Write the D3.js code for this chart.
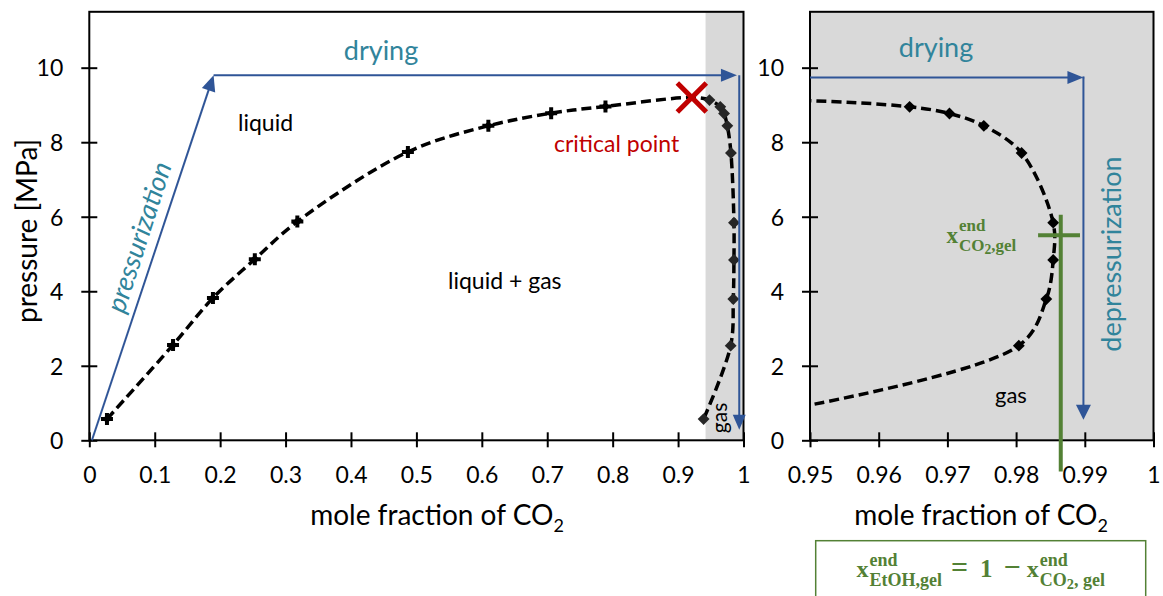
<!DOCTYPE html>
<html>
<head>
<meta charset="utf-8">
<script src="https://cdn.jsdelivr.net/npm/d3@7"></script>
<style>
  html, body { margin: 0; padding: 0; background: #fff; }
  svg { display: block; font-family: Lato, "Open Sans", sans-serif; }
</style>
</head>
<body>
<svg id="chart" width="1163" height="596"></svg>
<script>
// Ethanol / CO2 phase envelope at drying temperature, with the supercritical drying route.

// Bubble (liquid) branch: CO2 mole fraction and pressure [MPa]
const liquidX = [0.027, 0.128, 0.189, 0.253, 0.318, 0.487, 0.610, 0.706, 0.789];
const liquidP = [0.57, 2.56, 3.82, 4.86, 5.87, 7.74, 8.44, 8.78, 8.96];

// Critical point of the mixture
const criticalX = 0.921;
const criticalP = 9.2;

// Dew (gas) branch, from the critical point downwards
const gasX = [0.948, 0.9645, 0.9703, 0.9753, 0.9808, 0.9854, 0.9854, 0.9844, 0.9804, 0.939];
const gasP = [9.13, 8.95, 8.77, 8.44, 7.71, 5.84, 4.84, 3.79, 2.54, 0.57];

// Process route: pressurization, drying, depressurization (x, P)
const routeLeftX = [0.004, 0.19, 0.99];
const routeLeftP = [0.0, 9.8, 9.8];
const depressLeftX = 0.9935;
const depressLeftP = [9.8, 0.28];
const routeRightX = [0.95, 0.9898];
const routeRightP = [9.74, 9.74];
const depressRightX = 0.9898;
const depressRightP = [9.74, 0.55];

// Start of the single-phase gas region
const gasRegionFrom = 0.942;

// End-of-drying composition of the gel (CO2 mole fraction, pressure)
const endGelX = 0.9865;
const endGelP = 5.5;
const endGelSpanP = [6.05, -0.84];
const endGelSpanX = [0.9832, 0.9893];

// Axis ticks
const pTicks = [0, 2, 4, 6, 8, 10];
const pTickLabels = ["0", "2", "4", "6", "8", "10"];
const xTicksLeft = [0, 0.1, 0.2, 0.3, 0.4, 0.5, 0.6, 0.7, 0.8, 0.9, 1];
const xTickLabelsLeft = ["0", "0.1", "0.2", "0.3", "0.4", "0.5", "0.6", "0.7", "0.8", "0.9", "1"];
const xTicksRight = [0.95, 0.96, 0.97, 0.98, 0.99, 1];
const xTickLabelsRight = ["0.95", "0.96", "0.97", "0.98", "0.99", "1"];

const BLUE = "#2F5597", TEAL = "#31849B", RED = "#C00000", GREEN = "#538135", SHADE = "#D9D9D9";
const MATH_FONT = "'Liberation Serif', 'DejaVu Serif', serif";

const svg = d3.select("#chart");
const defs = svg.append("defs");

const y = d3.scaleLinear().domain([0, 11.5]).range([440.3, 11.8]);
const xL = d3.scaleLinear().domain([0, 1]).range([89.3, 743.5]);
const xR = d3.scaleLinear().domain([0.95, 1]).range([810, 1153.5]);

const liquid = liquidX.map((v, i) => [v, liquidP[i]]);
const gas = gasX.map((v, i) => [v, gasP[i]]);
const envelope = liquid.concat([[criticalX, criticalP]], gas);

function arrowHead(g, x1, y1, x2, y2, len, wid) {
  const a = Math.atan2(y2 - y1, x2 - x1);
  const bx = x2 - len * Math.cos(a), by = y2 - len * Math.sin(a);
  const nx = -Math.sin(a) * wid / 2, ny = Math.cos(a) * wid / 2;
  g.append("path")
    .attr("d", `M${x2},${y2}L${bx + nx},${by + ny}L${bx - nx},${by - ny}Z`)
    .attr("fill", BLUE);
}
function arrow(g, x1, y1, x2, y2, len = 15, wid = 13) {
  const a = Math.atan2(y2 - y1, x2 - x1);
  g.append("line")
    .attr("x1", x1).attr("y1", y1)
    .attr("x2", x2 - (len - 2) * Math.cos(a)).attr("y2", y2 - (len - 2) * Math.sin(a))
    .attr("stroke", BLUE).attr("stroke-width", 2);
  arrowHead(g, x1, y1, x2, y2, len, wid);
}

function panel(id, x, ticks, tickLabels, opts) {
  const [x0, x1] = x.range();
  const y0 = y(0), yTop = y.range()[1];
  const g = svg.append("g");

  defs.append("clipPath").attr("id", id)
    .append("rect").attr("x", x0).attr("y", yTop).attr("width", x1 - x0).attr("height", y0 - yTop);

  // shaded single-phase gas region
  const shadeFrom = Math.max(gasRegionFrom, x.domain()[0]);
  g.append("rect")
    .attr("x", x(shadeFrom)).attr("y", yTop)
    .attr("width", x1 - x(shadeFrom)).attr("height", y0 - yTop)
    .attr("fill", SHADE);

  // phase envelope
  const plot = g.append("g").attr("clip-path", `url(#${id})`);
  const line = d3.line().x(d => x(d[0])).y(d => y(d[1])).curve(d3.curveCatmullRom.alpha(0.5));
  plot.append("path").datum(envelope).attr("d", line)
    .attr("fill", "none").attr("stroke", "#000").attr("stroke-width", 3.5)
    .attr("stroke-dasharray", "10,5");

  // bubble-point markers
  const crossSym = d3.symbol().type(d3.symbolCross).size(80);
  const diaSym = d3.symbol().type(d3.symbolSquare).size(40);
  liquid.forEach(d => {
    const t = `translate(${x(d[0])},${y(d[1])})`;
    plot.append("path").attr("d", crossSym()).attr("transform", t).attr("fill", "#000");
    plot.append("path").attr("d", diaSym()).attr("transform", t + " rotate(45)").attr("fill", "#000");
  });
  // dew-point markers
  const gasSym = d3.symbol().type(d3.symbolSquare).size(70);
  gas.forEach(d => {
    plot.append("path").attr("d", gasSym())
      .attr("transform", `translate(${x(d[0])},${y(d[1])}) rotate(45)`)
      .attr("fill", opts.gasMarker);
  });

  // frame
  g.append("rect").attr("x", x0).attr("y", yTop).attr("width", x1 - x0).attr("height", y0 - yTop)
    .attr("fill", "none").attr("stroke", "#000").attr("stroke-width", 2);

  // axes with ticks crossing the axis line
  const ax = g.append("g").attr("transform", `translate(0,${y0})`)
    .call(d3.axisBottom(x).tickValues(ticks).tickFormat((d, i) => tickLabels[i]).tickSize(7));
  ax.select(".domain").remove();
  ax.selectAll(".tick line").attr("y1", -8).attr("y2", 7).attr("stroke", "#000").attr("stroke-width", 2);
  ax.selectAll(".tick text").attr("y", 43).attr("dy", 0)
    .attr("font-size", 23).attr("font-family", "Lato").attr("fill", "#000");

  const ay = g.append("g").attr("transform", `translate(${x0},0)`)
    .call(d3.axisLeft(y).tickValues(pTicks).tickFormat((d, i) => pTickLabels[i]).tickSize(7));
  ay.select(".domain").remove();
  ay.selectAll(".tick line").attr("x1", 8).attr("x2", -8).attr("stroke", "#000").attr("stroke-width", 2);
  ay.selectAll(".tick text").attr("x", -26).attr("dy", "0.36em")
    .attr("font-size", 23).attr("font-family", "Lato").attr("fill", "#000");

  // x-axis title
  const t = g.append("text").attr("x", opts.titleX).attr("y", 525)
    .attr("text-anchor", "middle").attr("font-size", 28).attr("fill", "#000");
  t.append("tspan").text("mole fraction of CO");
  t.append("tspan").text("2").attr("font-size", 18).attr("dy", 7);

  return g;
}

// ---------- left panel: full composition range ----------
const left = panel("clipL", xL, xTicksLeft, xTickLabelsLeft, { gasMarker: "#262626", titleX: 437 });

left.append("text").attr("transform", "translate(37,231) rotate(-90)")
  .attr("text-anchor", "middle").attr("font-size", 28).attr("fill", "#000")
  .text("pressure [MPa]");

const routeL = left.append("g");
arrow(routeL, xL(routeLeftX[0]), y(routeLeftP[0]), xL(routeLeftX[1]), y(routeLeftP[1]), 16, 14);
arrow(routeL, xL(routeLeftX[1]), y(routeLeftP[1]), xL(routeLeftX[2]), y(routeLeftP[2]), 16, 13);
arrow(routeL, xL(depressLeftX), y(depressLeftP[0]), xL(depressLeftX), y(depressLeftP[1]), 15, 13);

// critical point marker
const cpx = xL(criticalX), cpy = y(criticalP), r = 14.5;
left.append("path")
  .attr("d", `M${cpx - r},${cpy - r}L${cpx + r},${cpy + r}M${cpx - r},${cpy + r}L${cpx + r},${cpy - r}`)
  .attr("stroke", RED).attr("stroke-width", 5).attr("fill", "none");

left.append("text").attr("x", 381).attr("y", 60).attr("text-anchor", "middle")
  .attr("font-size", 27).attr("fill", TEAL).text("drying");
left.append("text").attr("transform", "translate(139,237) rotate(-72.1)")
  .attr("text-anchor", "middle").attr("dy", "0.35em").attr("font-style", "italic")
  .attr("font-size", 27).attr("fill", TEAL).text("pressurization");
left.append("text").attr("x", 238).attr("y", 130.5).attr("font-size", 23).attr("fill", "#000").text("liquid");
left.append("text").attr("x", 448).attr("y", 289).attr("font-size", 23).attr("fill", "#000").text("liquid + gas");
left.append("text").attr("x", 554).attr("y", 151.5).attr("font-size", 23).attr("fill", RED).text("critical point");
left.append("text").attr("transform", "translate(727,418) rotate(-90)")
  .attr("text-anchor", "middle").attr("font-size", 21).attr("fill", "#000").text("gas");

// ---------- right panel: CO2-rich end ----------
const right = panel("clipR", xR, xTicksRight, xTickLabelsRight, { gasMarker: "#000", titleX: 981 });

const routeR = right.append("g");
arrow(routeR, xR(routeRightX[0]), y(routeRightP[0]), xR(routeRightX[1]), y(routeRightP[1]), 16, 13);
routeR.append("line")
  .attr("x1", xR(depressRightX)).attr("x2", xR(depressRightX))
  .attr("y1", y(depressRightP[0]) - 1).attr("y2", y(depressRightP[0]) + 1)
  .attr("stroke", BLUE).attr("stroke-width", 2);
arrow(routeR, xR(depressRightX), y(depressRightP[0]), xR(depressRightX), y(depressRightP[1]), 15, 15);

right.append("text").attr("x", 936).attr("y", 57).attr("text-anchor", "middle")
  .attr("font-size", 27).attr("fill", TEAL).text("drying");
right.append("text").attr("transform", "translate(1112,254) rotate(-90)")
  .attr("text-anchor", "middle").attr("dy", "0.35em")
  .attr("font-size", 27).attr("fill", TEAL).text("depressurization");
right.append("text").attr("x", 995).attr("y", 403).attr("font-size", 22).attr("fill", "#000").text("gas");

// end-of-drying composition crosshair
right.append("line").attr("x1", xR(endGelX)).attr("x2", xR(endGelX))
  .attr("y1", y(endGelSpanP[0])).attr("y2", y(endGelSpanP[1]))
  .attr("stroke", GREEN).attr("stroke-width", 4);
right.append("line").attr("x1", xR(endGelSpanX[0])).attr("x2", xR(endGelSpanX[1]))
  .attr("y1", y(endGelP)).attr("y2", y(endGelP))
  .attr("stroke", GREEN).attr("stroke-width", 4);

// ---------- math-style labels ----------
// one run of bold serif text; {sub: "..."} pieces are set lowered and smaller
function run(parent, x, baseline, segs, size) {
  const t = parent.append("text").attr("x", x).attr("y", baseline).attr("font-size", size)
    .attr("font-family", MATH_FONT).attr("font-weight", "bold").attr("fill", GREEN);
  let lowered = false;
  segs.forEach(s => {
    if (typeof s === "string") {
      const sp = t.append("tspan").text(s);
      if (lowered) { sp.attr("dy", -3); lowered = false; }
    } else {
      t.append("tspan").text(s.sub).attr("font-size", size * 0.8).attr("dy", 3);
      lowered = true;
    }
  });
  return t.node().getComputedTextLength();
}
function formula(parent, x, baseline, items, align) {
  const g = parent.append("g");
  let cx = 0;
  items.forEach(it => {
    cx += it.gap || 0;
    if (it.stack) {
      const a = run(g, cx, baseline + it.stack[0].dy, it.stack[0].segs, it.stack[0].size);
      const b = run(g, cx, baseline + it.stack[1].dy, it.stack[1].segs, it.stack[1].size);
      cx += Math.max(a, b);
    } else {
      cx += run(g, cx, baseline, it.segs, it.size);
    }
  });
  const shift = align === "middle" ? x - cx / 2 : x;
  g.attr("transform", `translate(${shift},0)`);
  return g;
}

function co2Sub(sep) {
  return ["CO", { sub: "2" }, sep + "gel"];
}

formula(right, 946.5, 243.3, [
  { segs: ["x"], size: 23 },
  { gap: 1, stack: [{ segs: ["end"], size: 17, dy: -12.5 }, { segs: co2Sub(","), size: 17, dy: 7.5 }] }
], "start");

// result box below the right panel
svg.append("rect").attr("x", 815.7).attr("y", 540.7).attr("width", 330).attr("height", 80)
  .attr("fill", "#fff").attr("stroke", GREEN).attr("stroke-width", 1.5);
formula(svg, 980.7, 577, [
  { segs: ["x"], size: 24 },
  { gap: 1, stack: [{ segs: ["end"], size: 18, dy: -11.5 }, { segs: ["EtOH,gel"], size: 18, dy: 9 }] },
  { gap: 9, segs: ["="], size: 30 },
  { gap: 12, segs: ["1"], size: 25 },
  { gap: 11, segs: ["\u2212"], size: 30 },
  { gap: 6, segs: ["x"], size: 24 },
  { gap: 1, stack: [{ segs: ["end"], size: 18, dy: -11.5 }, { segs: co2Sub(", "), size: 18, dy: 9 }] }
], "middle");
</script>
</body>
</html>
